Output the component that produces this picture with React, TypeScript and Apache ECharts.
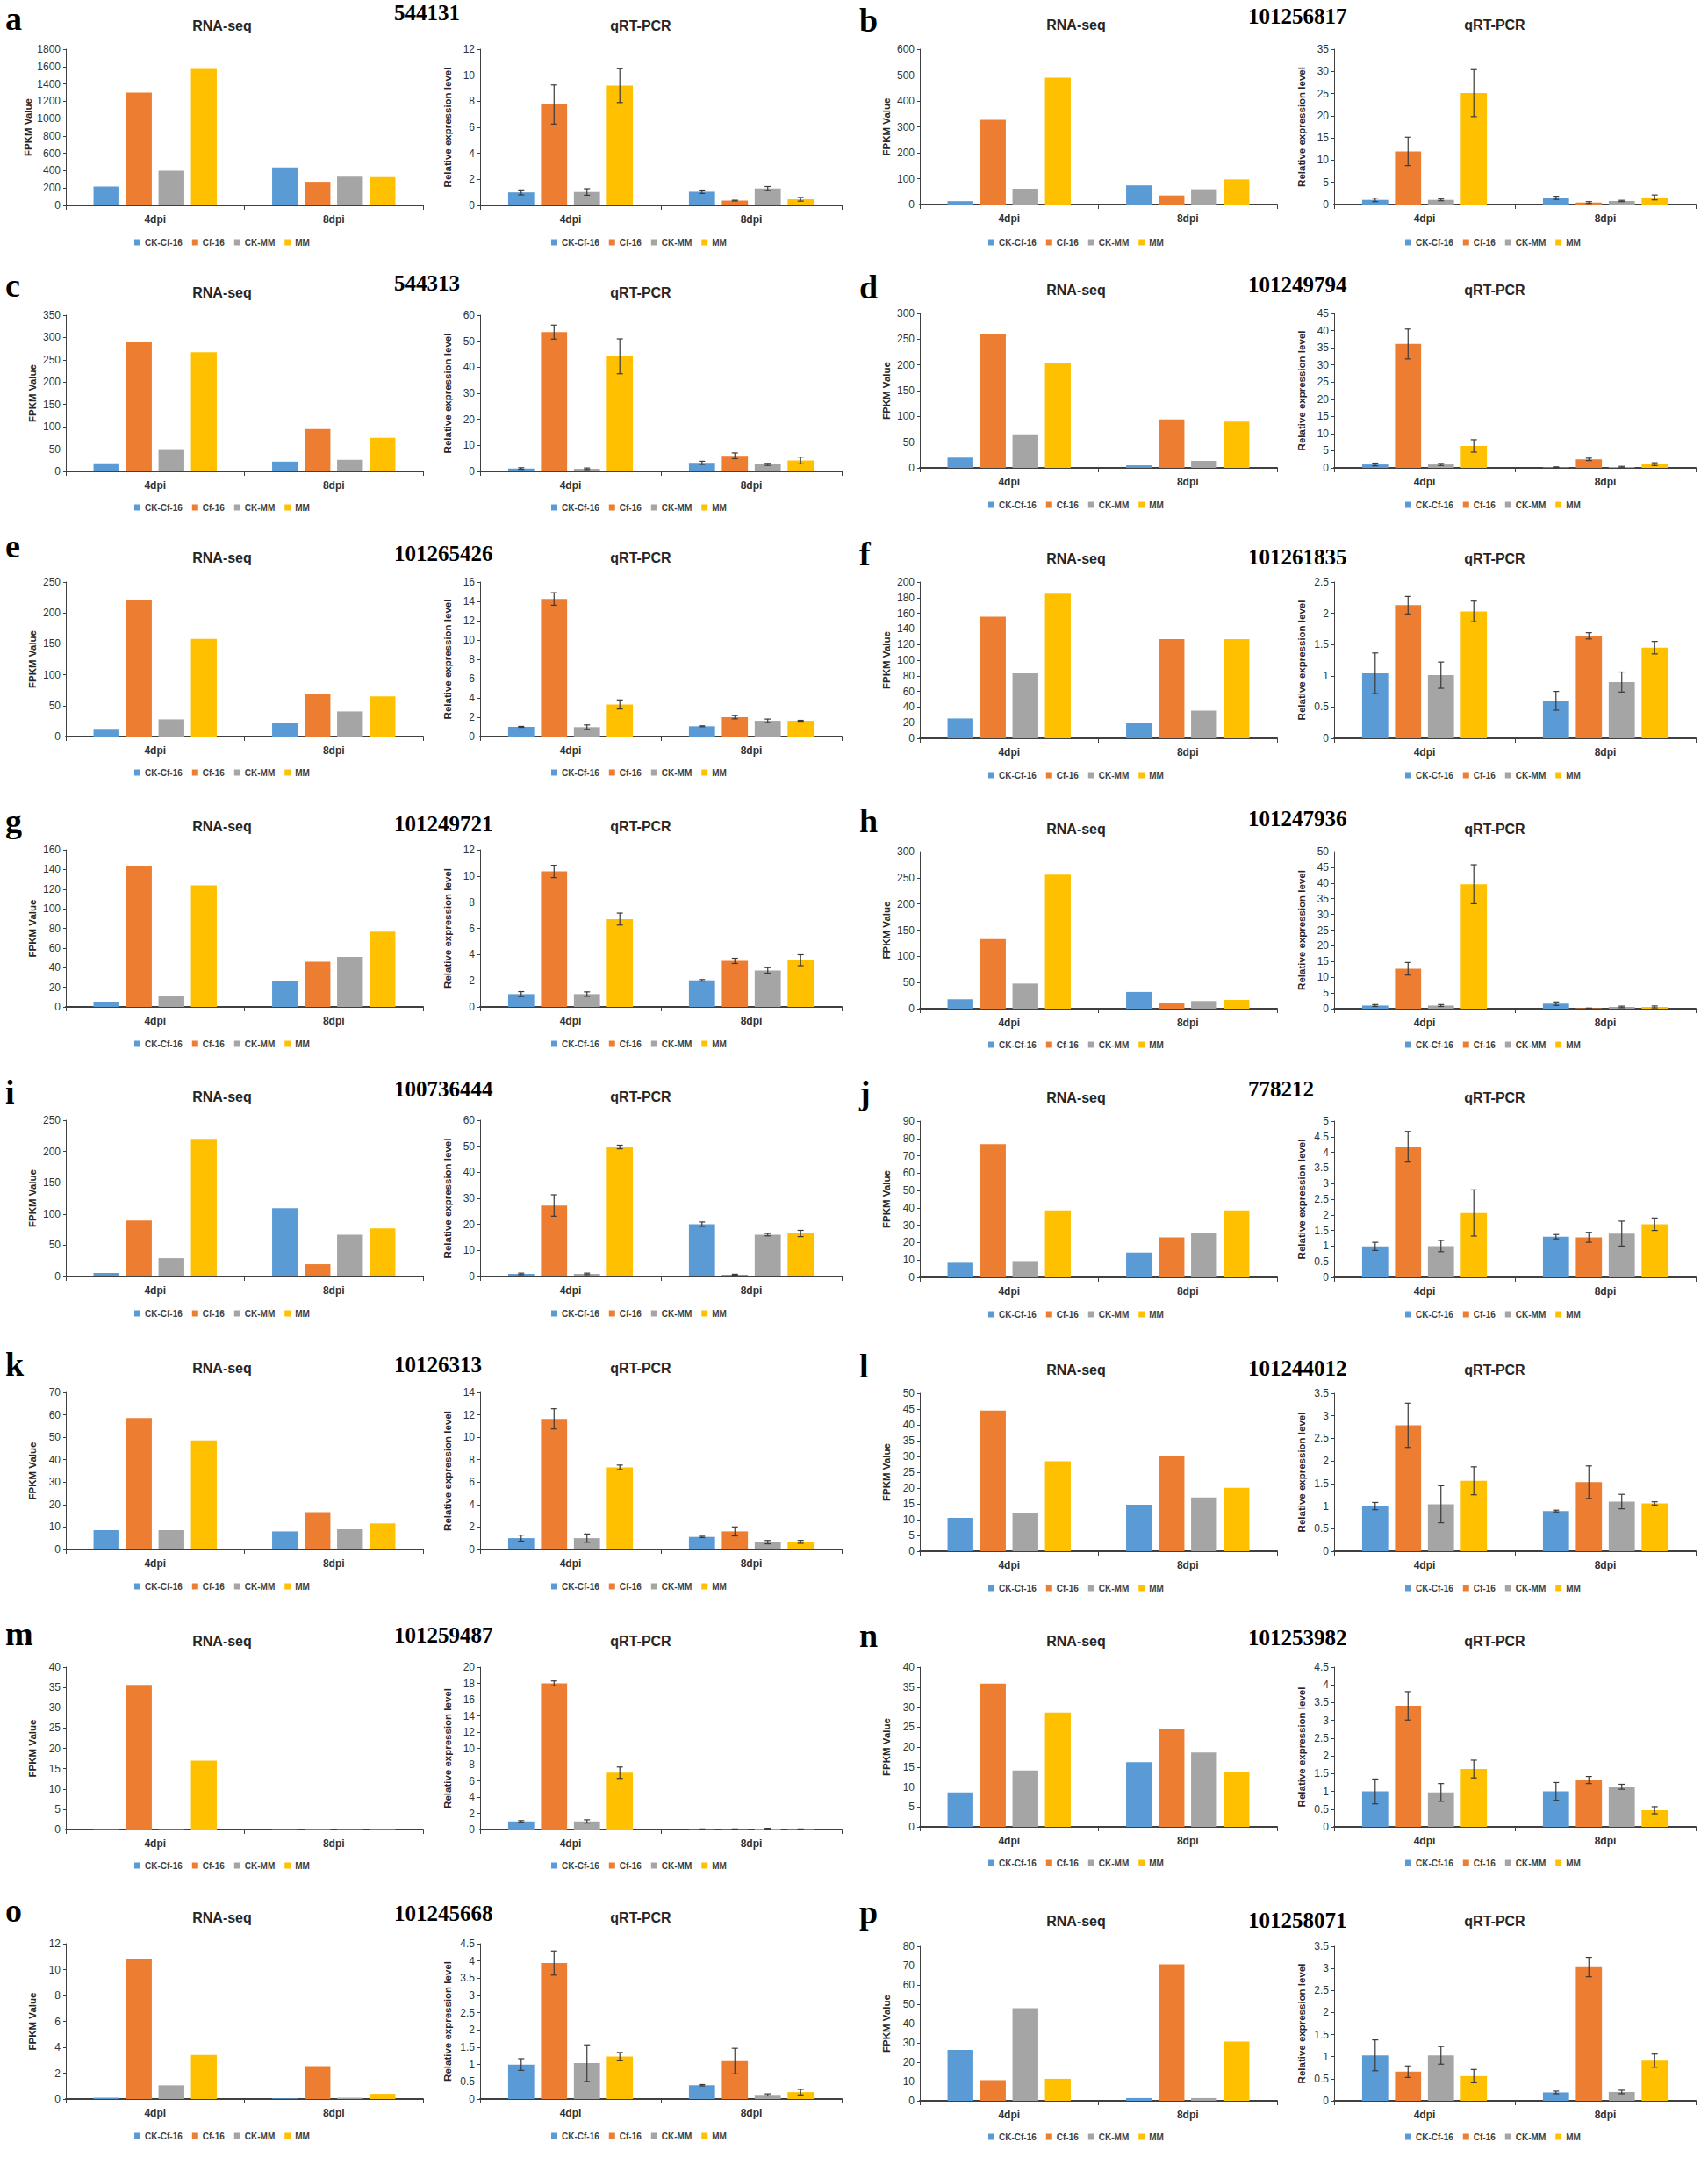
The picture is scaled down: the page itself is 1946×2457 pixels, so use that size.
import React, { useEffect, useRef } from 'react';
import * as echarts from 'echarts';

// ---------- data ----------
const categories = ['4dpi', '8dpi'];
const seriesNames = ['CK-Cf-16', 'Cf-16', 'CK-MM', 'MM'];
const seriesColors = ['#5B9BD5', '#ED7D31', '#A5A5A5', '#FFC000'];
const panelLetters = ['a', 'b', 'c', 'd', 'e', 'f', 'g', 'h', 'i', 'j', 'k', 'l', 'm', 'n', 'o', 'p'];
const geneIds = ['544131', '101256817', '544313', '101249794', '101265426', '101261835', '101249721', '101247936',
  '100736444', '778212', '10126313', '101244012', '101259487', '101253982', '101245668', '101258071'];
const rnaMax = [1800, 600, 350, 300, 250, 200, 160, 300, 250, 90, 70, 50, 40, 40, 12, 80];
const rnaStep = [200, 100, 50, 50, 50, 20, 20, 50, 50, 10, 10, 5, 5, 5, 2, 10];
const qMax = [12, 35, 60, 45, 16, 2.5, 12, 50, 60, 5, 14, 3.5, 20, 4.5, 4.5, 3.5];
const qStep = [2, 5, 10, 5, 2, 0.5, 2, 5, 10, 0.5, 2, 0.5, 2, 0.5, 0.5, 0.5];

// values: [4dpi series values, 8dpi series values]
const rnaA = [[218, 1300, 400, 1572], [437, 272, 332, 326]];
const qA = [[1.0, 7.75, 1.03, 9.2], [1.05, 0.37, 1.3, 0.47]];
const errA = [[0.19, 1.5, 0.25, 1.3], [0.13, 0.03, 0.15, 0.14]];
const rnaB = [[13, 327, 61, 490], [74, 35, 59, 97]];
const qB = [[1.05, 11.97, 1.05, 25.1], [1.5, 0.45, 0.8, 1.6]];
const errB = [[0.4, 3.2, 0.2, 5.3], [0.35, 0.2, 0.15, 0.55]];
const rnaC = [[18, 289, 48, 267], [22, 95, 26, 75]];
const qC = [[1.1, 53.5, 1.0, 44.2], [3.3, 6.0, 2.7, 4.2]];
const errC = [[0.3, 2.7, 0.3, 6.7], [0.6, 1.1, 0.4, 1.3]];
const rnaD = [[20, 260, 65, 204], [5, 94, 13.6, 90]];
const qD = [[1.0, 36.1, 1.0, 6.4], [0.2, 2.5, 0.25, 1.1]];
const errD = [[0.4, 4.35, 0.3, 1.8], [0.1, 0.35, 0.2, 0.4]];
const rnaE = [[12.3, 220, 27.8, 158], [22.6, 69, 40.6, 65]];
const qE = [[1.0, 14.25, 0.97, 3.32], [1.06, 2.0, 1.63, 1.63]];
const errE = [[0.05, 0.65, 0.23, 0.47], [0.05, 0.17, 0.18, 0.05]];
const rnaF = [[25.4, 155.6, 83.2, 185], [19.4, 127, 35.4, 127]];
const qF = [[1.04, 2.13, 1.01, 2.03], [0.6, 1.64, 0.9, 1.45]];
const errF = [[0.325, 0.14, 0.21, 0.165], [0.15, 0.05, 0.16, 0.1]];
const rnaG = [[5.4, 143.3, 11.3, 123.7], [25.9, 46, 50.9, 76.7]];
const qG = [[0.98, 10.35, 0.98, 6.71], [2.03, 3.52, 2.79, 3.57]];
const errG = [[0.19, 0.47, 0.17, 0.46], [0.06, 0.2, 0.21, 0.42]];
const rnaH = [[18, 133, 48, 256], [32, 10, 14.6, 16.8]];
const qH = [[1.0, 12.7, 1.0, 39.6], [1.6, 0.15, 0.56, 0.56]];
const errH = [[0.3, 2.0, 0.3, 6.2], [0.55, 0.05, 0.25, 0.3]];
const rnaI = [[5.6, 89.7, 29.4, 220], [109.3, 19.6, 66.8, 77]];
const qI = [[1.0, 27.25, 1.0, 49.7], [20.07, 0.67, 16.04, 16.5]];
const errI = [[0.3, 4.1, 0.3, 0.7], [0.85, 0.2, 0.45, 1.2]];
const rnaJ = [[8.4, 76.7, 9.4, 38.5], [14.3, 23, 25.6, 38.5]];
const qJ = [[0.99, 4.18, 1.0, 2.06], [1.3, 1.28, 1.4, 1.7]];
const errJ = [[0.13, 0.49, 0.18, 0.74], [0.07, 0.16, 0.4, 0.2]];
const rnaK = [[8.6, 58.6, 8.6, 48.6], [8.05, 16.6, 9.0, 11.6]];
const qK = [[1.01, 11.64, 1.01, 7.32], [1.12, 1.61, 0.65, 0.68]];
const errK = [[0.27, 0.9, 0.37, 0.2], [0.06, 0.4, 0.15, 0.13]];
const rnaL = [[10.56, 44.5, 12.2, 28.5], [14.7, 30.2, 17, 20.1]];
const qL = [[1.0, 2.79, 1.04, 1.56], [0.89, 1.53, 1.1, 1.06]];
const errL = [[0.08, 0.49, 0.41, 0.31], [0.02, 0.36, 0.16, 0.035]];
const rnaM = [[0.1, 35.6, 0.1, 17], [0.1, 0.15, 0.1, 0.1]];
const qM = [[1.0, 18.0, 1.0, 7.0], [0.05, 0.05, 0.1, 0.05]];
const errM = [[0.1, 0.3, 0.2, 0.7], [0.02, 0.02, 0.05, 0.02]];
const rnaN = [[8.6, 35.9, 14.1, 28.6], [16.2, 24.5, 18.6, 13.8]];
const qN = [[1.0, 3.41, 0.97, 1.63], [1.0, 1.32, 1.13, 0.47]];
const errN = [[0.35, 0.4, 0.25, 0.25], [0.25, 0.1, 0.07, 0.1]];
const rnaO = [[0.1, 10.8, 1.06, 3.4], [0.05, 2.55, 0.1, 0.4]];
const qO = [[1.0, 3.94, 1.04, 1.23], [0.4, 1.1, 0.12, 0.2]];
const errO = [[0.17, 0.35, 0.53, 0.12], [0.02, 0.37, 0.03, 0.08]];
const rnaP = [[26.4, 10.7, 47.9, 11.4], [1.4, 70.7, 1.4, 30.7]];
const qP = [[1.03, 0.66, 1.03, 0.56], [0.19, 3.03, 0.2, 0.91]];
const errP = [[0.35, 0.13, 0.2, 0.15], [0.03, 0.22, 0.04, 0.15]];

const rnaValues = [rnaA, rnaB, rnaC, rnaD, rnaE, rnaF, rnaG, rnaH, rnaI, rnaJ, rnaK, rnaL, rnaM, rnaN, rnaO, rnaP];
const qValues = [qA, qB, qC, qD, qE, qF, qG, qH, qI, qJ, qK, qL, qM, qN, qO, qP];
const errValues = [errA, errB, errC, errD, errE, errF, errG, errH, errI, errJ, errK, errL, errM, errN, errO, errP];

// ---------- layout ----------
const COL_OFF = 973;
const plotTop = [56, 56, 359, 357, 663, 663, 968, 970, 1276, 1277, 1586, 1587, 1899, 1899, 2214, 2217];
const plotBottom = [234, 233, 537, 533, 839, 841, 1147, 1149, 1454, 1455, 1765, 1767, 2084, 2081, 2391, 2393];
const letterBase = [34, 36, 338, 340, 635, 644, 948, 948, 1257, 1258, 1567, 1569, 1874, 1876, 2189, 2191];
const geneBase = [23, 27, 331, 333, 639, 643, 947, 941, 1249, 1249, 1563, 1567, 1871, 1874, 2188, 2196];
const titleMid = [29, 28, 333, 330, 635, 636, 941, 944, 1249, 1250, 1558, 1560, 1869, 1869, 2184, 2188];
const legendMid = [277, 277, 579, 576, 881, 884, 1190, 1191, 1497, 1498, 1808, 1810, 2126, 2123, 2434, 2435];

const CAT_GAP = 0.31;
const BAR_GAP = 0.26;
const AXIS_COLOR = '#404040';
const SANS = '"Liberation Sans", Arial, sans-serif';
const SERIF = '"Liberation Serif", "Times New Roman", serif';
const LETTER_SIZE = 38;

function buildOption() {
  const grid: any[] = [];
  const xAxis: any[] = [];
  const yAxis: any[] = [];
  const series: any[] = [];
  const legend: any[] = [];
  const graphic: any[] = [];

  for (let p = 0; p < 16; p++) {
    const off = (p % 2) * COL_OFF;
    const top = plotTop[p];
    const h = plotBottom[p] - plotTop[p];
    const subs = [
      { left: off + 75, width: 407, max: rnaMax[p], step: rnaStep[p], name: 'FPKM Value', gap: 32, vals: rnaValues[p], err: null as any, legLeft: off + 153 },
      { left: off + 547, width: 412, max: qMax[p], step: qStep[p], name: 'Relative expression level', gap: 31, vals: qValues[p], err: errValues[p], legLeft: off + 628 },
    ];
    subs.forEach((s) => {
      const gi = grid.length;
      grid.push({ left: s.left, top, width: s.width, height: h });
      xAxis.push({
        type: 'category', gridIndex: gi, data: categories,
        axisLine: { show: true, lineStyle: { color: AXIS_COLOR, width: 2 } },
        axisTick: { show: true, length: 5, lineStyle: { color: AXIS_COLOR } },
        axisLabel: { fontSize: 12, fontWeight: 'bold', color: '#333', margin: 10, fontFamily: SANS },
      });
      yAxis.push({
        type: 'value', gridIndex: gi, min: 0, max: s.max, interval: s.step,
        splitLine: { show: false },
        axisLine: { show: true, lineStyle: { color: AXIS_COLOR, width: 1 } },
        axisTick: { show: true, length: 3, lineStyle: { color: AXIS_COLOR } },
        axisLabel: {
          fontSize: 12, color: '#333', margin: 6, fontFamily: SANS,
          formatter: (v: number) => String(Math.round(v * 100) / 100),
        },
        name: s.name, nameLocation: 'middle', nameGap: s.gap,
        nameTextStyle: { fontSize: 11.5, fontWeight: 'bold', color: '#262626', fontFamily: SANS },
      });
      seriesNames.forEach((nm, si) => {
        series.push({
          type: 'bar', name: nm, xAxisIndex: gi, yAxisIndex: gi,
          data: categories.map((_, ci) => s.vals[ci][si]),
          itemStyle: { color: seriesColors[si] },
          barGap: `${BAR_GAP * 100}%`, barCategoryGap: `${CAT_GAP * 100}%`,
          emphasis: { disabled: true },
        });
      });
      if (s.err) {
        const data: number[][] = [];
        categories.forEach((_, ci) => seriesNames.forEach((__, si) => {
          data.push([ci, si, s.vals[ci][si], s.err[ci][si]]);
        }));
        series.push({
          type: 'custom', name: 'error', xAxisIndex: gi, yAxisIndex: gi, z: 5,
          encode: { x: 0, y: 2 },
          data,
          renderItem: (params: any, api: any) => {
            const c = api.value(0), si = api.value(1), v = api.value(2), e = api.value(3);
            const band = api.size([1, 0])[0];
            const bw = band * (1 - CAT_GAP) / (4 + 3 * BAR_GAP);
            const dx = (si - 1.5) * bw * (1 + BAR_GAP);
            const pt = api.coord([c, v + e]);
            const pb = api.coord([c, Math.max(0, v - e)]);
            const x = pt[0] + dx;
            const st = { stroke: '#3a3a3a', lineWidth: 1.2 };
            return {
              type: 'group', children: [
                { type: 'line', shape: { x1: x, y1: pt[1], x2: x, y2: pb[1] }, style: st },
                { type: 'line', shape: { x1: x - 3.5, y1: pt[1], x2: x + 3.5, y2: pt[1] }, style: st },
                { type: 'line', shape: { x1: x - 3.5, y1: pb[1], x2: x + 3.5, y2: pb[1] }, style: st },
              ],
            };
          },
        });
      }
      legend.push({
        data: seriesNames, left: s.legLeft, top: legendMid[p] - 6, padding: 0,
        icon: 'rect', itemWidth: 7, itemHeight: 7, itemGap: 11, selectedMode: false,
        textStyle: { fontSize: 10, fontWeight: 'bold', color: '#404040', fontFamily: SANS },
      });
    });

    graphic.push(
      { type: 'text', x: off + 6, y: letterBase[p] - 0.3375 * LETTER_SIZE, style: { text: panelLetters[p], font: `bold ${LETTER_SIZE}px ${SERIF}`, fill: '#000', align: 'left', verticalAlign: 'middle' } },
      { type: 'text', x: off + 449, y: geneBase[p] - 8.5, style: { text: geneIds[p], font: `bold 25px ${SERIF}`, fill: '#000', align: 'left', verticalAlign: 'middle' } },
      { type: 'text', x: off + 253, y: titleMid[p], style: { text: 'RNA-seq', font: `bold 16px ${SANS}`, fill: '#262626', align: 'center', verticalAlign: 'middle' } },
      { type: 'text', x: off + 730, y: titleMid[p], style: { text: 'qRT-PCR', font: `bold 16px ${SANS}`, fill: '#262626', align: 'center', verticalAlign: 'middle' } },
    );
  }

  return {
    animation: false,
    backgroundColor: '#ffffff',
    grid, xAxis, yAxis, series, legend, graphic,
  };
}

export default function App() {
  const ref = useRef<HTMLDivElement>(null);
  useEffect(() => {
    document.body.style.margin = '0';
    if (!ref.current) return;
    const chart = echarts.init(ref.current, undefined, { renderer: 'svg' });
    chart.setOption(buildOption() as any);
    return () => chart.dispose();
  }, []);
  return <div ref={ref} style={{ width: 1946, height: 2457 }} />;
}
